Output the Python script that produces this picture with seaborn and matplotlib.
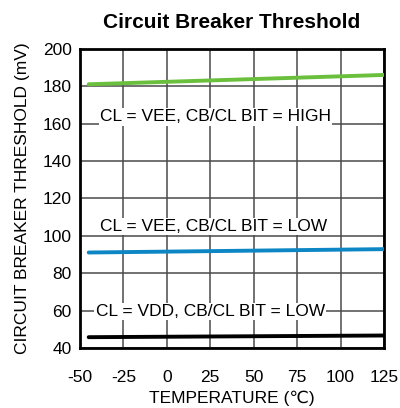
import pandas as pd
import matplotlib
matplotlib.use('Agg')
import matplotlib.pyplot as plt
import seaborn as sns

# data
temps = [-45, 125]
high_vee = [181.1, 186.1]
low_vee = [91.1, 92.9]
low_vdd = [45.8, 46.7]
x_ticks = [-50, -25, 0, 25, 50, 75, 100, 125]
y_ticks = [40, 60, 80, 100, 120, 140, 160, 180, 200]

sns.set_style('white')
plt.rcParams['font.family'] = ['Liberation Sans', 'DejaVu Sans']
plt.rcParams['axes.unicode_minus'] = False
plt.rcParams['text.color'] = 'black'
plt.rcParams['axes.labelcolor'] = 'black'
plt.rcParams['xtick.color'] = 'black'
plt.rcParams['ytick.color'] = 'black'

df = pd.DataFrame({
    'temp': temps * 3,
    'mv': high_vee + low_vee + low_vdd,
    'series': ['high_vee'] * 2 + ['low_vee'] * 2 + ['low_vdd'] * 2,
})

fig = plt.figure(figsize=(4, 4.08), dpi=100)
ax = fig.add_axes([0.2, 0.147, 0.76, 0.733])

sns.lineplot(data=df, x='temp', y='mv', hue='series',
             palette={'high_vee': '#6abf3c', 'low_vee': '#0c86c4', 'low_vdd': '#000000'},
             linewidth=2.8, legend=False, ax=ax, zorder=3)

ax.set_xlim(-50, 125)
ax.set_ylim(40, 200)
ax.set_xticks(x_ticks)
ax.set_yticks(y_ticks)
ax.grid(True, color='#4a4a4a', linewidth=1.1)
ax.tick_params(length=0, labelsize=12.5, pad=6)
ax.tick_params(axis='x', pad=16)
for s in ax.spines.values():
    s.set_linewidth(2)
    s.set_color('black')

box = dict(facecolor='white', edgecolor='none', pad=1)
ax.text(28, 163.6, 'CL = VEE, CB/CL BIT = HIGH', ha='center', va='center', fontsize=12.5, bbox=box, zorder=4)
ax.text(27, 105, 'CL = VEE, CB/CL BIT = LOW', ha='center', va='center', fontsize=12.5, bbox=box, zorder=4)
ax.text(25, 59.5, 'CL = VDD, CB/CL BIT = LOW', ha='center', va='center', fontsize=12.5, bbox=box, zorder=4)

ax.set_title('Circuit Breaker Threshold', fontsize=15, fontweight='bold', pad=15)
ax.set_xlabel('TEMPERATURE (℃)', fontsize=12.5, labelpad=4)
ax.set_ylabel('CIRCUIT BREAKER THRESHOLD (mV)', fontsize=12.5, labelpad=9)

fig.savefig('out.png', dpi=100)
